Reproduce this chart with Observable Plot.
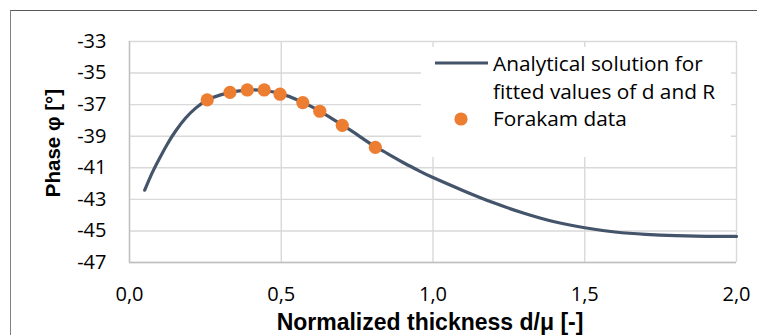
<!DOCTYPE html>
<html><head><meta charset="utf-8">
<script src="https://cdn.jsdelivr.net/npm/d3@7"></script>
<script src="https://cdn.jsdelivr.net/npm/@observablehq/plot@0.6"></script>
<style>
body{margin:0;background:#fff;}
#wrap{position:relative;width:757px;height:335px;overflow:hidden;background:#fff;}
#frame{position:absolute;left:10px;top:10px;width:800px;height:400px;border-top:1.5px solid #595959;border-left:1.5px solid #808080;}
#chart{position:absolute;left:0;top:0;}
#legend{position:absolute;left:421px;top:47px;width:310px;height:110px;background:#fff;font-family:"Open Sans",sans-serif;font-size:20.8px;color:#000;}
#legend svg{position:absolute;left:0;top:0;}
#legend .t{position:absolute;left:72px;white-space:nowrap;line-height:28px;}
[aria-label="x-axis label"] text{font-family:"Liberation Sans",Arial,sans-serif;font-weight:bold;font-size:23px;}
[aria-label="y-axis label"] text{font-family:"Liberation Sans",Arial,sans-serif;font-weight:bold;font-size:20.5px;}
</style></head>
<body><div id="wrap"><div id="frame"></div><div id="chart"></div>
<div id="legend"></div></div>
<script>
const xTicks = [0, 0.5, 1, 1.5, 2];
const yTicks = [-33, -35, -37, -39, -41, -43, -45, -47];
const curveX = [0.050, 0.075, 0.097, 0.124, 0.152, 0.185, 0.218, 0.255, 0.30, 0.35, 0.40, 0.45, 0.50, 0.55, 0.60, 0.65, 0.70, 0.75, 0.80, 0.85, 0.90, 0.95, 1.00, 1.10, 1.20, 1.30, 1.40, 1.50, 1.60, 1.70, 1.80, 1.90, 2.00];
const curveY = [-42.42, -41.31, -40.47, -39.52, -38.67, -37.85, -37.22, -36.72, -36.38, -36.16, -36.07, -36.12, -36.32, -36.67, -37.13, -37.68, -38.28, -38.90, -39.55, -40.10, -40.65, -41.15, -41.62, -42.45, -43.22, -43.88, -44.42, -44.80, -45.07, -45.22, -45.30, -45.34, -45.35];
const dataX = [0.256, 0.331, 0.388, 0.444, 0.496, 0.571, 0.627, 0.701, 0.810];
const dataY = [-36.70, -36.22, -36.07, -36.07, -36.34, -36.87, -37.42, -38.31, -39.71];
const seriesNames = ["Analytical solution for\nfitted values of d and R", "Forakam data"];
const lineColor = "#44546a", dotColor = "#ed7d31";

const curve = curveX.map((x, i) => ({x, y: curveY[i]}));
const pts = dataX.map((x, i) => ({x, y: dataY[i]}));

const chart = Plot.plot({
  width: 757, height: 335,
  marginLeft: 129, marginRight: 21, marginTop: 41, marginBottom: 73,
  style: {fontFamily: "'Open Sans', sans-serif", fontSize: "20px", color: "#000", background: "transparent", overflow: "visible"},
  x: {domain: [0, 2]},
  y: {domain: [-47, -33]},
  marks: [
    Plot.gridX(xTicks, {stroke: "#d9d9d9", strokeOpacity: 1, strokeWidth: 1.4}),
    Plot.gridY(yTicks, {stroke: "#d9d9d9", strokeOpacity: 1, strokeWidth: 1.4}),
    Plot.ruleY([-47], {stroke: "#bfbfbf", strokeWidth: 1.4}),
    Plot.ruleX([0], {stroke: "#bfbfbf", strokeWidth: 1.4}),
    Plot.axisX(xTicks, {tickSize: 0, tickPadding: 24, tickFormat: d => d.toFixed(1).replace(".", ","), label: "Normalized thickness d/μ [-]", labelAnchor: "center", labelArrow: "none", labelOffset: 67}),
    Plot.axisY(yTicks, {tickSize: 0, tickPadding: 23, tickFormat: d => String(d), label: "Phase φ [°]", labelAnchor: "center", labelArrow: "none", labelOffset: 84}),
    Plot.line(curve, {x: "x", y: "y", stroke: lineColor, strokeWidth: 3.2, curve: "natural"}),
    Plot.dot(pts, {x: "x", y: "y", r: 6.6, fill: dotColor, stroke: "none"})
  ]
});
document.getElementById("chart").appendChild(chart);

// nudge axis titles to match the original placement
d3.select(chart).selectAll('[aria-label="y-axis label"] text').each(function() {
  const t = this.getAttribute("transform") || "";
  this.setAttribute("transform", "translate(0,-9) " + t);
});
d3.select(chart).selectAll('[aria-label="x-axis label"] text').each(function() {
  const t = this.getAttribute("transform") || "";
  this.setAttribute("transform", "translate(-3,0) " + t);
});

const lg = document.getElementById("legend");
lg.innerHTML = `<svg width="310" height="110"><line x1="14" x2="67" y1="16" y2="16" stroke="${lineColor}" stroke-width="3.2"/><circle cx="40" cy="72" r="6.6" fill="${dotColor}"/></svg>` +
  `<div class="t" style="top:2px">${seriesNames[0].replace("\n", "<br>")}</div>` +
  `<div class="t" style="top:57px">${seriesNames[1]}</div>`;
</script></body></html>
